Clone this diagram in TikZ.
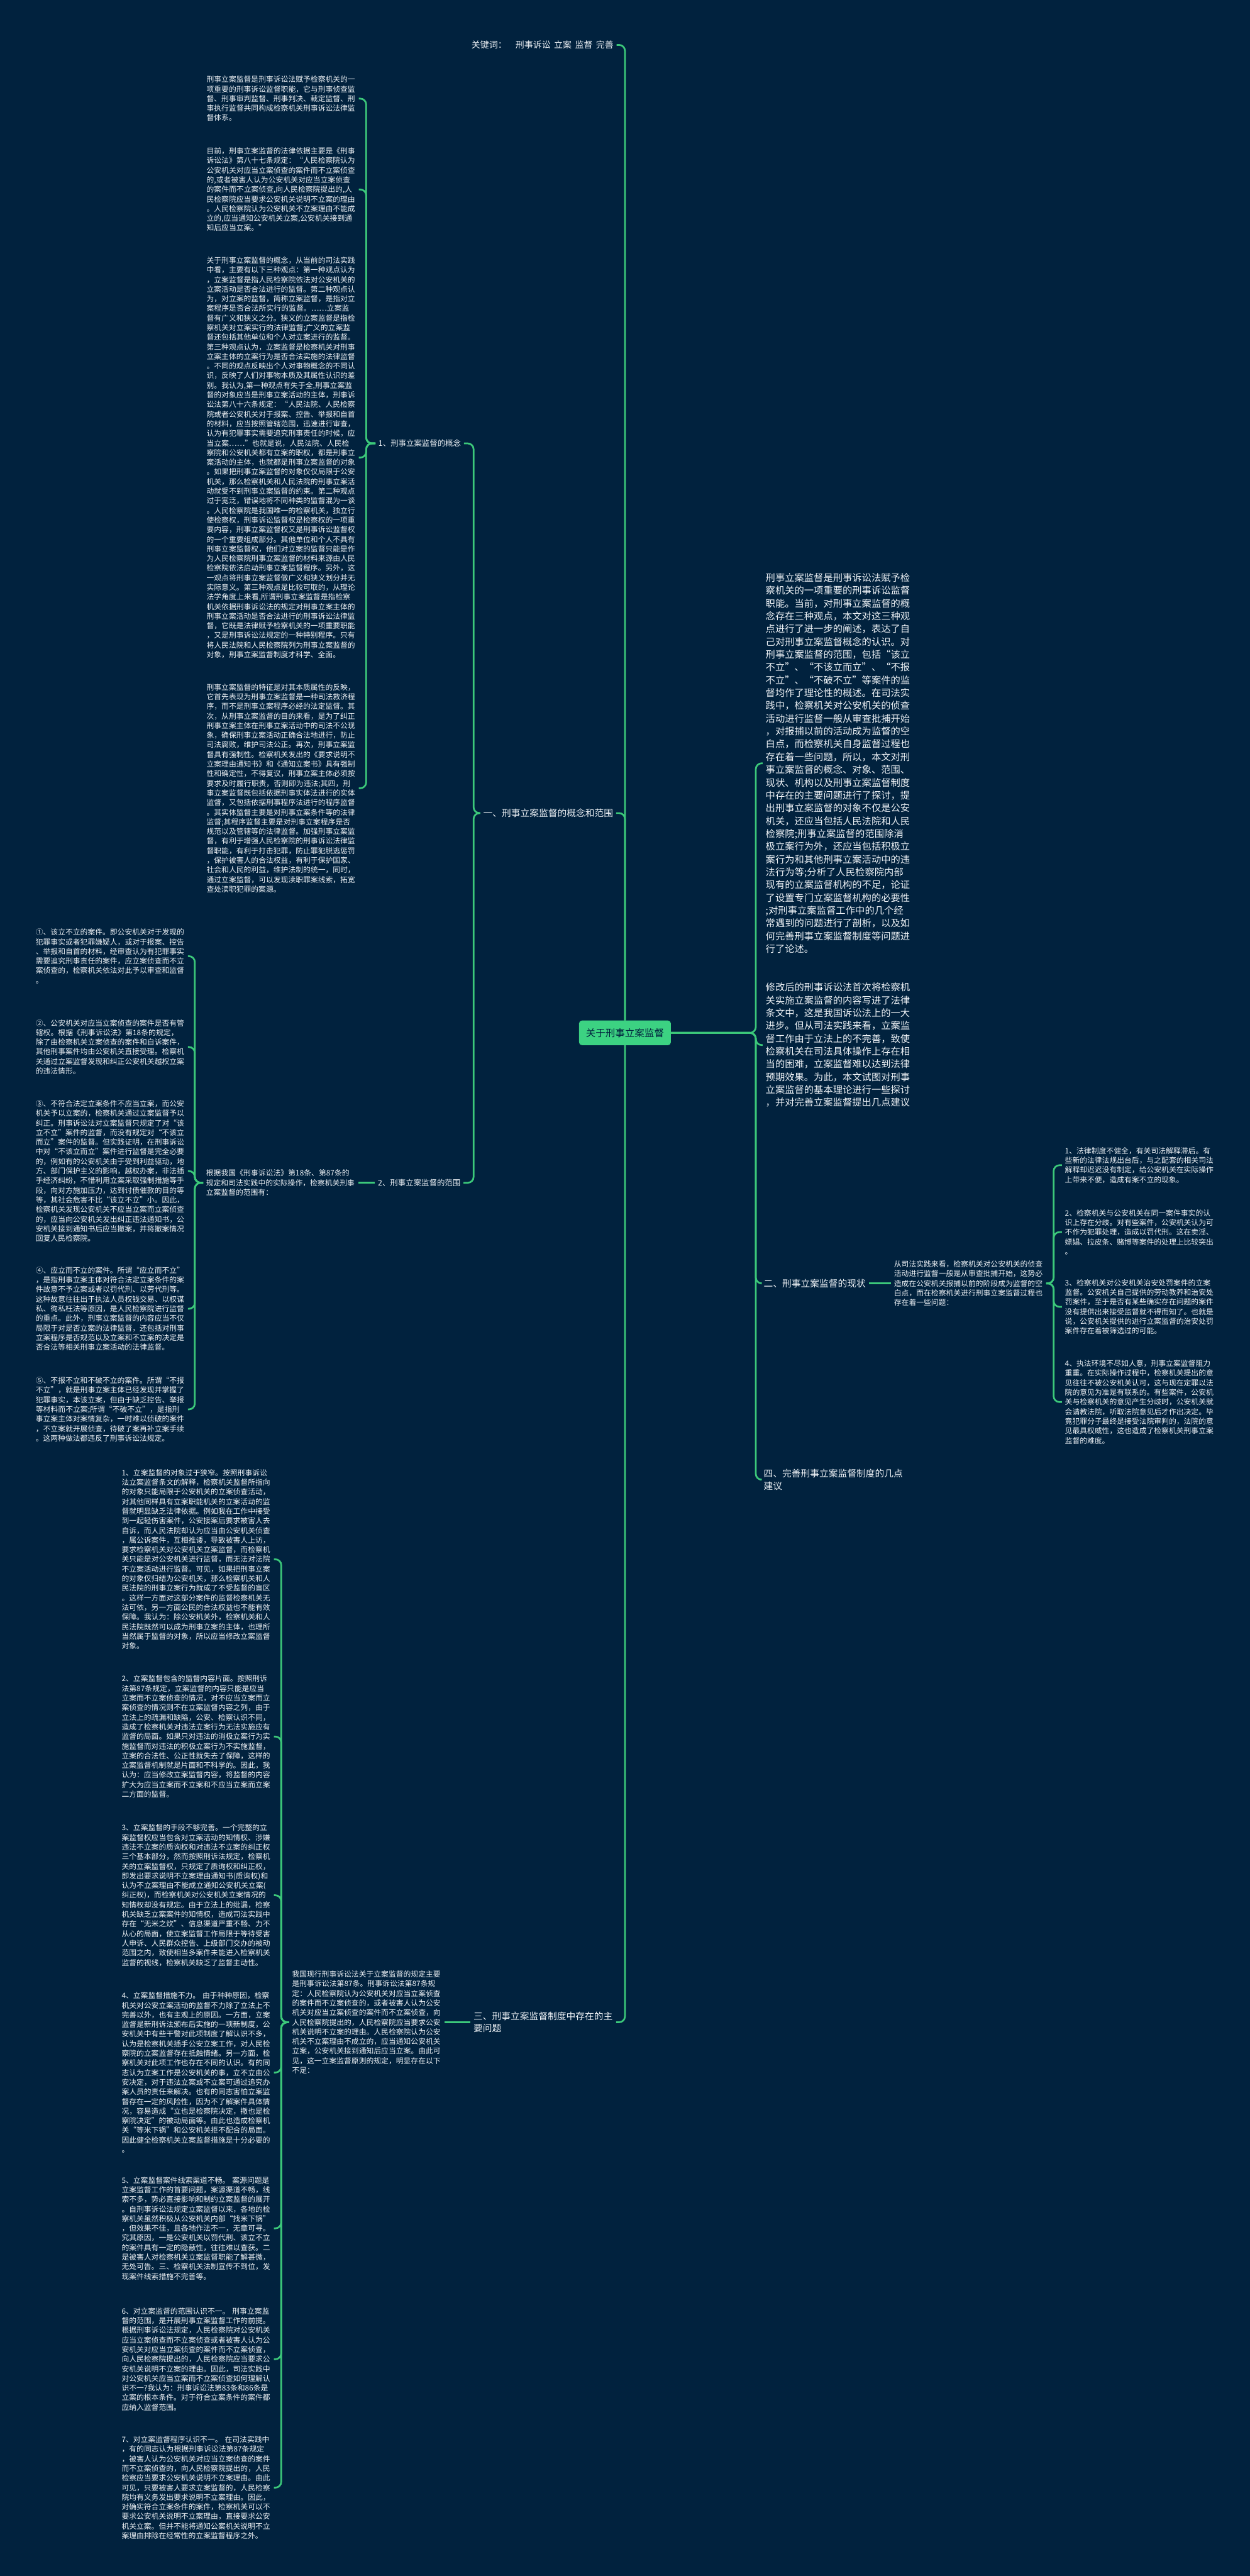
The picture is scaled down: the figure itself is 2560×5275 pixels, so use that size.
\documentclass[tikz,border=0pt]{standalone}
\usepackage{fontspec}
\setmainfont{Noto Sans CJK SC}
\newXeTeXintercharclass\mycjk
\count255="3000 \loop\XeTeXcharclass\count255=\mycjk \ifnum\count255<"303F \advance\count255 by 1 \repeat
\count255="4E00 \loop\XeTeXcharclass\count255=\mycjk \ifnum\count255<"9FFF \advance\count255 by 1 \repeat
\count255="FF00 \loop\XeTeXcharclass\count255=\mycjk \ifnum\count255<"FFEF \advance\count255 by 1 \repeat
\count255="2014 \loop\XeTeXcharclass\count255=\mycjk \ifnum\count255<"2026 \advance\count255 by 1 \repeat
\XeTeXinterchartoks\mycjk \mycjk={\hskip 0pt plus 0.2pt\relax}
\XeTeXinterchartoks\mycjk 0 ={\hskip 0pt plus 0.2pt\relax}
\XeTeXinterchartoks 0 \mycjk={\hskip 0pt plus 0.2pt\relax}
\XeTeXinterchartokenstate=1
\definecolor{bgc}{RGB}{1,34,62}
\definecolor{lnc}{RGB}{60,200,122}
\definecolor{txc}{RGB}{238,242,246}
\definecolor{ctr}{RGB}{60,210,130}
\tikzset{
 conn/.style={draw=lnc, line width=3.5pt, rounded corners=12pt},
 body/.style={text=txc, align=left, inner xsep=6pt, inner ysep=2pt, anchor=west, font=\fontsize{15.2}{19.7}\selectfont, text width=305.5pt},
 bigbody/.style={body, font=\fontsize{19.7}{26.2}\selectfont, text width=296.5pt},
 lvone/.style={text=txc, inner xsep=6pt, inner ysep=2pt, font=\fontsize{19}{25}\selectfont},
 lvtwo/.style={text=txc, inner xsep=6pt, inner ysep=2pt, font=\fontsize{16}{21}\selectfont},
 ctrbox/.style={fill=ctr, rounded corners=6pt, text=bgc, inner xsep=14pt, inner ysep=16pt, font=\fontsize{20}{24}\selectfont}
}
\begin{document}
\begin{tikzpicture}[x=1pt,y=-1pt]
\useasboundingbox (0,0) rectangle (2560,5275);
\fill[bgc] (0,0) rectangle (2560,5275);
% center
\node[ctrbox] (c) at (1280,2115) {关于刑事立案监督};
% keyword
\node[lvone, anchor=east, font=\fontsize{18}{22}\selectfont] (kw) at (1263,92) {关键词：\hspace{18pt}刑事诉讼\hspace{7pt}立案\hspace{7pt}监督\hspace{7pt}完善};
% level one left
\node[lvone, anchor=east] (y1) at (1262,1665) {一、刑事立案监督的概念和范围};
\node[lvone, anchor=east, text width=286pt, align=left] (y3) at (1262,4141) {三、刑事立案监督制度中存在的主要问题};
% level two
\node[lvtwo, anchor=west] (l1) at (769,908) {1、刑事立案监督的概念};
\node[lvtwo, anchor=west] (l2) at (768,2422) {2、刑事立案监督的范围};
% B
\node[body] (b1) at (417,202) {刑事立案监督是刑事诉讼法赋予检察机关的一项重要的刑事诉讼监督职能，它与刑事侦查监督、刑事审判监督、刑事判决、裁定监督、刑事执行监督共同构成检察机关刑事诉讼法律监督体系。};
\node[body] (b2) at (417,388) {目前，刑事立案监督的法律依据主要是《刑事诉讼法》第八十七条规定：“人民检察院认为公安机关对应当立案侦查的案件而不立案侦查的,或者被害人认为公安机关对应当立案侦查的案件而不立案侦查,向人民检察院提出的,人民检察院应当要求公安机关说明不立案的理由。人民检察院认为公安机关不立案理由不能成立的,应当通知公安机关立案,公安机关接到通知后应当立案。”};
\node[body] (b3) at (417,937) {关于刑事立案监督的概念，从当前的司法实践中看，主要有以下三种观点：第一种观点认为，立案监督是指人民检察院依法对公安机关的立案活动是否合法进行的监督。第二种观点认为，对立案的监督，简称立案监督，是指对立案程序是否合法所实行的监督。……立案监督有广义和狭义之分。狭义的立案监督是指检察机关对立案实行的法律监督;广义的立案监督还包括其他单位和个人对立案进行的监督。第三种观点认为，立案监督是检察机关对刑事立案主体的立案行为是否合法实施的法律监督。不同的观点反映出个人对事物概念的不同认识，反映了人们对事物本质及其属性认识的差别。我认为,第一种观点有失于全,刑事立案监督的对象应当是刑事立案活动的主体，刑事诉讼法第八十六条规定：“人民法院、人民检察院或者公安机关对于报案、控告、举报和自首的材料，应当按照管辖范围，迅速进行审查，认为有犯罪事实需要追究刑事责任的时候，应当立案……”也就是说，人民法院、人民检察院和公安机关都有立案的职权，都是刑事立案活动的主体，也就都是刑事立案监督的对象。如果把刑事立案监督的对象仅仅局限于公安机关，那么检察机关和人民法院的刑事立案活动就受不到刑事立案监督的约束。第二种观点过于宽泛，错误地将不同种类的监督混为一谈。人民检察院是我国唯一的检察机关，独立行使检察权，刑事诉讼监督权是检察权的一项重要内容，刑事立案监督权又是刑事诉讼监督权的一个重要组成部分。其他单位和个人不具有刑事立案监督权，他们对立案的监督只能是作为人民检察院刑事立案监督的材料来源由人民检察院依法启动刑事立案监督程序。另外，这一观点将刑事立案监督做广义和狭义划分并无实际意义。第三种观点是比较可取的，从理论法学角度上来看,所谓刑事立案监督是指检察机关依据刑事诉讼法的规定对刑事立案主体的刑事立案活动是否合法进行的刑事诉讼法律监督，它既是法律赋予检察机关的一项重要职能，又是刑事诉讼法规定的一种特别程序。只有将人民法院和人民检察院列为刑事立案监督的对象，刑事立案监督制度才科学、全面。};
\node[body] (b4) at (417,1614) {刑事立案监督的特征是对其本质属性的反映，它首先表现为刑事立案监督是一种司法救济程序，而不是刑事立案程序必经的法定监督。其次，从刑事立案监督的目的来看，是为了纠正刑事立案主体在刑事立案活动中的司法不公现象，确保刑事立案活动正确合法地进行，防止司法腐败，维护司法公正。再次，刑事立案监督具有强制性。检察机关发出的《要求说明不立案理由通知书》和《通知立案书》具有强制性和确定性，不得复议，刑事立案主体必须按要求及时履行职责，否则即为违法;其四，刑事立案监督既包括依据刑事实体法进行的实体监督，又包括依据刑事程序法进行的程序监督。其实体监督主要是对刑事立案条件等的法律监督;其程序监督主要是对刑事立案程序是否规范以及管辖等的法律监督。加强刑事立案监督，有利于增强人民检察院的刑事诉讼法律监督职能，有利于打击犯罪，防止罪犯脱逃惩罚，保护被害人的合法权益，有利于保护国家、社会和人民的利益，维护法制的统一，同时，通过立案监督，可以发现渎职罪案线索，拓宽查处渎职犯罪的案源。};
% G
\node[body] (g1) at (67,1958) {①、该立不立的案件。即公安机关对于发现的犯罪事实或者犯罪嫌疑人，或对于报案、控告、举报和自首的材料，经审查认为有犯罪事实需要追究刑事责任的案件，应立案侦查而不立案侦查的，检察机关依法对此予以审查和监督。};
\node[body] (g2) at (67,2144) {②、公安机关对应当立案侦查的案件是否有管辖权。根据《刑事诉讼法》第18条的规定，除了由检察机关立案侦查的案件和自诉案件，其他刑事案件均由公安机关直接受理。检察机关通过立案监督发现和纠正公安机关越权立案的违法情形。};
\node[body] (g3) at (67,2398) {③、不符合法定立案条件不应当立案，而公安机关予以立案的，检察机关通过立案监督予以纠正。刑事诉讼法对立案监督只规定了对“该立不立”案件的监督，而没有规定对“不该立而立”案件的监督。但实践证明，在刑事诉讼中对“不该立而立”案件进行监督是完全必要的，例如有的公安机关由于受到利益驱动，地方、部门保护主义的影响，越权办案，非法插手经济纠纷，不惜利用立案采取强制措施等手段，向对方施加压力，达到讨债催款的目的等等，其社会危害不比“该立不立”小。因此，检察机关发现公安机关不应当立案而立案侦查的，应当向公安机关发出纠正违法通知书，公安机关接到通知书后应当撤案，并将撤案情况回复人民检察院。};
\node[body] (g4) at (67,2680) {④、应立而不立的案件。所谓“应立而不立”，是指刑事立案主体对符合法定立案条件的案件故意不予立案或者以罚代刑、以劳代刑等。这种故意往往出于执法人员权钱交易、以权谋私、徇私枉法等原因，是人民检察院进行监督的重点。此外，刑事立案监督的内容应当不仅局限于对是否立案的法律监督，还包括对刑事立案程序是否规范以及立案和不立案的决定是否合法等相关刑事立案活动的法律监督。};
\node[body] (g5) at (67,2886) {⑤、不报不立和不破不立的案件。所谓“不报不立”，就是刑事立案主体已经发现并掌握了犯罪事实，本该立案，但由于缺乏控告、举报等材料而不立案;所谓“不破不立”，是指刑事立案主体对案情复杂，一时难以侦破的案件，不立案就开展侦查，待破了案再补立案手续。这两种做法都违反了刑事诉讼法规定。};
\node[body] (h) at (416,2422) {根据我国《刑事诉讼法》第18条、第87条的规定和司法实践中的实际操作，检察机关刑事立案监督的范围有：};
% N and M
\node[body] (n) at (592,4141) {我国现行刑事诉讼法关于立案监督的规定主要是刑事诉讼法第87条。刑事诉讼法第87条规定：人民检察院认为公安机关对应当立案侦查的案件而不立案侦查的，或者被害人认为公安机关对应当立案侦查的案件而不立案侦查，向人民检察院提出的，人民检察院应当要求公安机关说明不立案的理由。人民检察院认为公安机关不立案理由不成立的，应当通知公安机关立案，公安机关接到通知后应当立案。由此可见，这一立案监督原则的规定，明显存在以下不足：};
\node[body] (m1) at (243,3193) {1、立案监督的对象过于狭窄。按照刑事诉讼法立案监督条文的解释，检察机关监督所指向的对象只能局限于公安机关的立案侦查活动，对其他同样具有立案职能机关的立案活动的监督就明显缺乏法律依据。例如我在工作中接受到一起轻伤害案件，公安接案后要求被害人去自诉，而人民法院却认为应当由公安机关侦查，属公诉案件，互相推诿，导致被害人上访，要求检察机关对公安机关立案监督，而检察机关只能是对公安机关进行监督，而无法对法院不立案活动进行监督。可见，如果把刑事立案的对象仅归结为公安机关，那么检察机关和人民法院的刑事立案行为就成了不受监督的盲区。这样一方面对这部分案件的监督检察机关无法可依，另一方面公民的合法权益也不能有效保障。我认为：除公安机关外，检察机关和人民法院既然可以成为刑事立案的主体，也理所当然属于监督的对象，所以应当修改立案监督对象。};
\node[body] (m2) at (243,3556) {2、立案监督包含的监督内容片面。按照刑诉法第87条规定，立案监督的内容只能是应当立案而不立案侦查的情况，对不应当立案而立案侦查的情况则不在立案监督内容之列，由于立法上的疏漏和缺陷，公安、检察认识不同，造成了检察机关对违法立案行为无法实施应有监督的局面。如果只对违法的消极立案行为实施监督而对违法的积极立案行为不实施监督，立案的合法性、公正性就失去了保障，这样的立案监督机制就是片面和不科学的。因此，我认为：应当修改立案监督内容，将监督的内容扩大为应当立案而不立案和不应当立案而立案二方面的监督。};
\node[body] (m3) at (243,3881) {3、立案监督的手段不够完善。一个完整的立案监督权应当包含对立案活动的知情权、涉嫌违法不立案的质询权和对违法不立案的纠正权三个基本部分，然而按照刑诉法规定，检察机关的立案监督权，只规定了质询权和纠正权，即发出要求说明不立案理由通知书(质询权)和认为不立案理由不能成立通知公安机关立案(纠正权)，而检察机关对公安机关立案情况的知情权却没有规定。由于立法上的纰漏，检察机关缺乏立案案件的知情权，造成司法实践中存在“无米之炊”、信息渠道严重不畅、力不从心的局面，使立案监督工作局限于等待受害人申诉、人民群众控告、上级部门交办的被动范围之内，致使相当多案件未能进入检察机关监督的视线，检察机关缺乏了监督主动性。};
\node[body] (m4) at (243,4244) {4、立案监督措施不力。 由于种种原因，检察机关对公安立案活动的监督不力除了立法上不完善以外，也有主观上的原因。一方面，立案监督是新刑诉法颁布后实施的一项新制度，公安机关中有些干警对此项制度了解认识不多，认为是检察机关插手公安立案工作，对人民检察院的立案监督存在抵触情绪。另一方面，检察机关对此项工作也存在不同的认识。有的同志认为立案工作是公安机关的事，立不立由公安决定，对于违法立案或不立案可通过追究办案人员的责任来解决。也有的同志害怕立案监督存在一定的风险性，因为不了解案件具体情况，容易造成“立也是检察院决定，撤也是检察院决定”的被动局面等。由此也造成检察机关“等米下锅”和公安机关拒不配合的局面。因此健全检察机关立案监督措施是十分必要的。};
\node[body] (m5) at (243,4563) {5、立案监督案件线索渠道不畅。 案源问题是立案监督工作的首要问题，案源渠道不畅，线索不多，势必直接影响和制约立案监督的展开。自刑事诉讼法规定立案监督以来，各地的检察机关虽然积极从公安机关内部“找米下锅”，但效果不佳，且各地作法不一，无章可寻。究其原因，一是公安机关以罚代刑、该立不立的案件具有一定的隐蔽性，往往难以查获。二是被害人对检察机关立案监督职能了解甚微，无处可告。三、检察机关法制宣传不到位，发现案件线索措施不完善等。};
\node[body] (m6) at (243,4831) {6、对立案监督的范围认识不一。 刑事立案监督的范围，是开展刑事立案监督工作的前提。根据刑事诉讼法规定，人民检察院对公安机关应当立案侦查而不立案侦查或者被害人认为公安机关对应当立案侦查的案件而不立案侦查，向人民检察院提出的，人民检察院应当要求公安机关说明不立案的理由。因此，司法实践中对公安机关应当立案而不立案侦查如何理解认识不一?我认为：刑事诉讼法第83条和86条是立案的根本条件。对于符合立案条件的案件都应纳入监督范围。};
\node[body] (m7) at (243,5094) {7、对立案监督程序认识不一。 在司法实践中，有的同志认为根据刑事诉讼法第87条规定，被害人认为公安机关对应当立案侦查的案件而不立案侦查的，向人民检察院提出的，人民检察应当要求公安机关说明不立案理由。由此可见，只要被害人要求立案监督的，人民检察院均有义务发出要求说明不立案理由。因此，对确实符合立案条件的案件，检察机关可以不要求公安机关说明不立案理由，直接要求公安机关立案。但并不能将通知公案机关说明不立案理由排除在经常性的立案监督程序之外。};
% right side
\node[bigbody] (f1) at (1562,1563) {刑事立案监督是刑事诉讼法赋予检察机关的一项重要的刑事诉讼监督职能。当前，对刑事立案监督的概念存在三种观点，本文对这三种观点进行了进一步的阐述，表达了自己对刑事立案监督概念的认识。对刑事立案监督的范围，包括“该立不立”、“不该立而立”、“不报不立”、“不破不立”等案件的监督均作了理论性的概述。在司法实践中，检察机关对公安机关的侦查活动进行监督一般从审查批捕开始，对报捕以前的活动成为监督的空白点，而检察机关自身监督过程也存在着一些问题，所以，本文对刑事立案监督的概念、对象、范围、现状、机构以及刑事立案监督制度中存在的主要问题进行了探讨，提出刑事立案监督的对象不仅是公安机关，还应当包括人民法院和人民检察院;刑事立案监督的范围除消极立案行为外，还应当包括积极立案行为和其他刑事立案活动中的违法行为等;分析了人民检察院内部现有的立案监督机构的不足，论证了设置专门立案监督机构的必要性;对刑事立案监督工作中的几个经常遇到的问题进行了剖析，以及如何完善刑事立案监督制度等问题进行了论述。};
\node[bigbody] (f2) at (1562,2140) {修改后的刑事诉讼法首次将检察机关实施立案监督的内容写进了法律条文中，这是我国诉讼法上的一大进步。但从司法实践来看，立案监督工作由于立法上的不完善，致使检察机关在司法具体操作上存在相当的困难，立案监督难以达到法律预期效果。为此，本文试图对刑事立案监督的基本理论进行一些探讨，并对完善立案监督提出几点建议};
\node[lvone, anchor=west] (y2) at (1558,2628) {二、刑事立案监督的现状};
\node[lvone, anchor=west, text width=286pt, align=left] (y4) at (1558,3030) {四、完善刑事立案监督制度的几点建议};
\node[body] (j) at (1825,2628) {从司法实践来看，检察机关对公安机关的侦查活动进行监督一般是从审查批捕开始，这势必造成在公安机关报捕以前的阶段成为监督的空白点，而在检察机关进行刑事立案监督过程也存在着一些问题：};
\node[body] (k1) at (2175,2386) {1、法律制度不健全，有关司法解释滞后。有些新的法律法规出台后，与之配套的相关司法解释却迟迟没有制定，给公安机关在实际操作上带来不便，造成有案不立的现象。};
\node[body] (k2) at (2175,2523) {2、检察机关与公安机关在同一案件事实的认识上存在分歧。对有些案件，公安机关认为可不作为犯罪处理，造成以罚代刑。这在卖淫、嫖娼、拉皮条、赌博等案件的处理上比较突出。};
\node[body] (k3) at (2175,2676) {3、检察机关对公安机关治安处罚案件的立案监督。公安机关自己提供的劳动教养和治安处罚案件，至于是否有某些确实存在问题的案件没有提供出来接受监督就不得而知了。也就是说，公安机关提供的进行立案监督的治安处罚案件存在着被筛选过的可能。};
\node[body] (k4) at (2175,2871) {4、执法环境不尽如人意，刑事立案监督阻力重重。在实际操作过程中，检察机关提出的意见往往不被公安机关认可，这与现在定罪以法院的意见为准是有联系的。有些案件，公安机关与检察机关的意见产生分歧时，公安机关就会请教法院，听取法院意见后才作出决定。毕竟犯罪分子最终是接受法院审判的，法院的意见最具权威性，这也造成了检察机关刑事立案监督的难度。};
% spines
\coordinate (s1) at (750,0);
\coordinate (s2) at (399,0);
\coordinate (s3) at (970,0);
\coordinate (s4) at (576,0);
\coordinate (s5) at (1548,0);
\coordinate (s6) at (2158,0);
% connectors
\draw[conn] (c.north) |- (kw.east);
\draw[conn] (c.north) |- (y1.east);
\draw[conn] (c.south) |- (y3.east);
\foreach \t in {f1,f2,y2,y4} \draw[conn] (c.east) -- (c.east -| s5) |- (\t.west);
\foreach \t in {l1,l2} \draw[conn] (y1.west) -- (y1.west -| s3) |- (\t.east);
\foreach \t in {b1,b2,b3,b4} \draw[conn] (l1.west) -- (l1.west -| s1) |- (\t.east);
\draw[conn] (l2.west) -- (h.east);
\foreach \t in {g1,g2,g3,g4,g5} \draw[conn] (h.west) -- (h.west -| s2) |- (\t.east);
\draw[conn] (y3.west) -- (n.east);
\foreach \t in {m1,m2,m3,m4,m5,m6,m7} \draw[conn] (n.west) -- (n.west -| s4) |- (\t.east);
\draw[conn] (y2.east) -- (j.west);
\foreach \t in {k1,k2,k3,k4} \draw[conn] (j.east) -- (j.east -| s6) |- (\t.west);
\end{tikzpicture}
\end{document}
